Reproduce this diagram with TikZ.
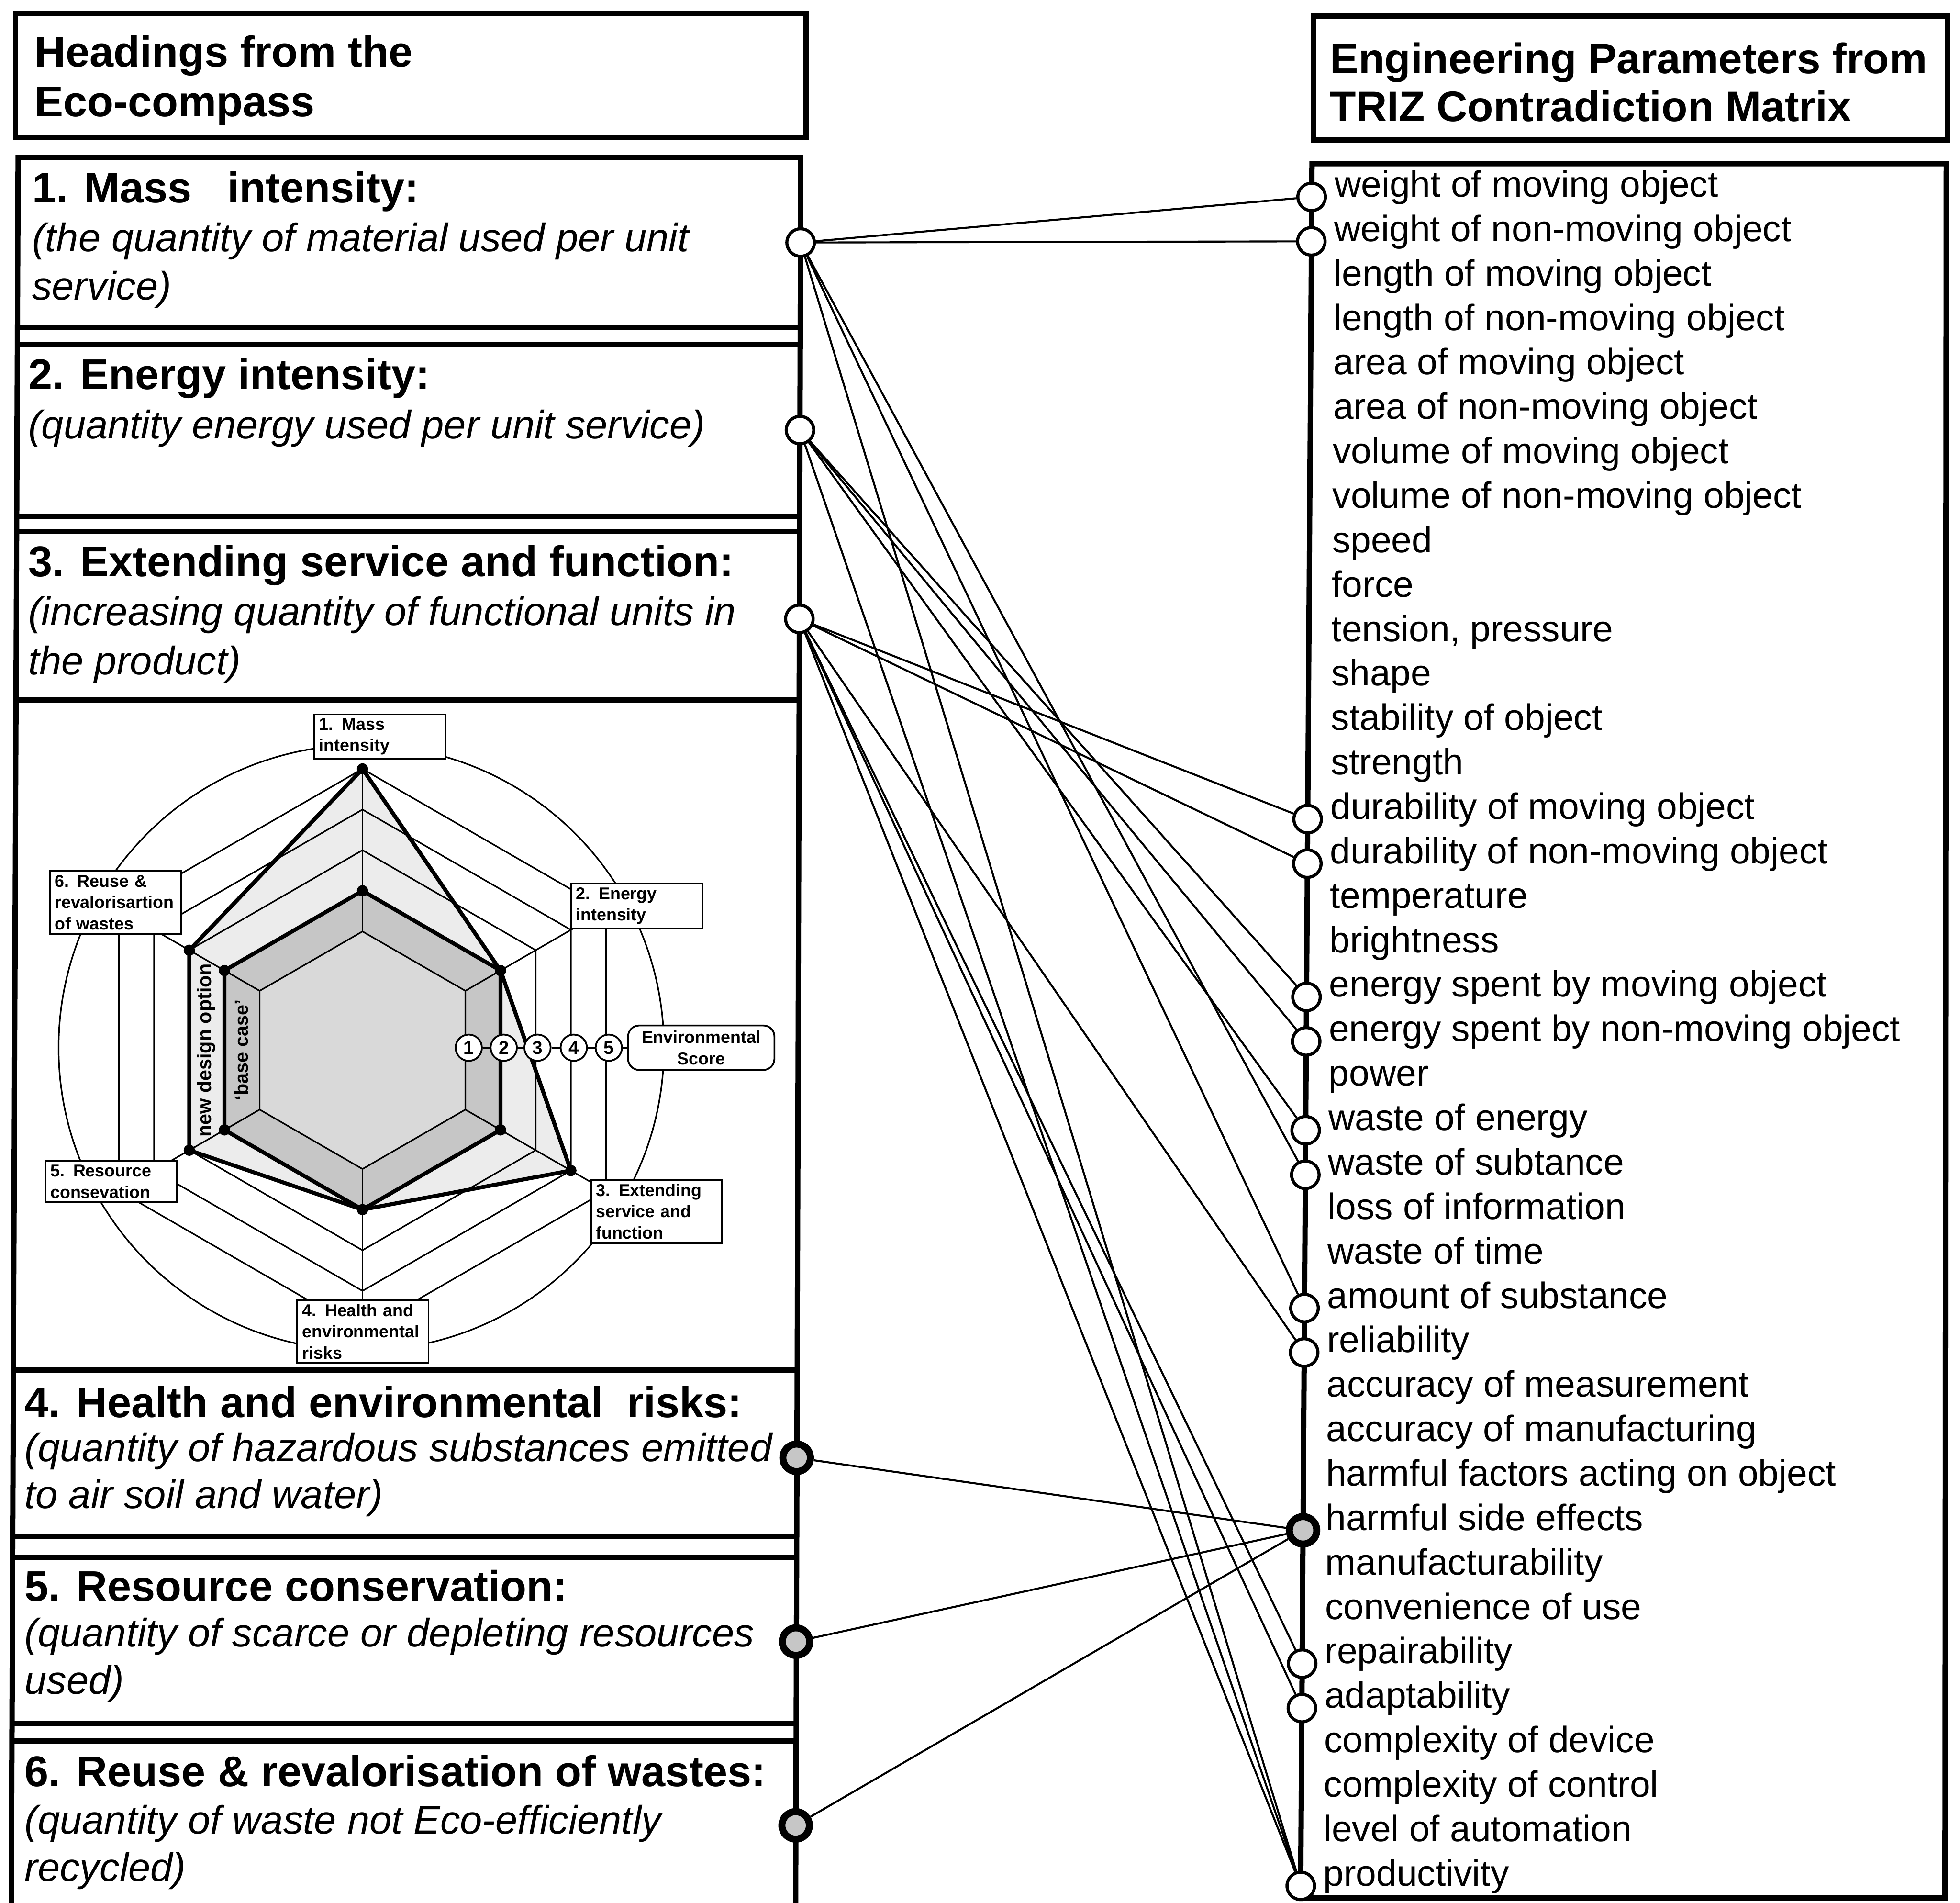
\documentclass[tikz,border=0pt]{standalone}
\usepackage{fontspec}
\setmainfont{Liberation Sans}
\usepackage{tikz}

\begin{document}
\begin{tikzpicture}[x=0.01cm, y=-0.01cm,
    boxline/.style={line width=1.2pt},
    headtxt/.style={anchor=base west, inner sep=0, font=\fontsize{9.8}{11}\selectfont\bfseries},
    desctxt/.style={anchor=base west, inner sep=0, font=\fontsize{9.05}{11}\selectfont\itshape},
    paramtxt/.style={anchor=base west, inner sep=0, font=\fontsize{8.35}{10}\selectfont},
    knob/.style={circle, draw, fill=white, line width=0.7pt, minimum size=0.22cm, inner sep=0},
    hotknob/.style={knob, fill=gray!45, line width=1.6pt},
    link/.style={line width=0.45pt},
    hexline/.style={line width=0.35pt},
    axbox/.style={draw, fill=white, line width=0.4pt, anchor=north west, text width=0.97cm,
        inner xsep=0.04cm, inner ysep=0.9pt, align=left, font=\fontsize{3.9}{4.85}\selectfont\bfseries},
    scoreknob/.style={circle, draw, fill=white, line width=0.4pt, minimum size=0.21cm, inner sep=0,
        font=\fontsize{4.2}{5}\selectfont\bfseries}]
\useasboundingbox (0,0) rectangle (1568,1522);

% left column: headings from the eco-compass
\draw[boxline] (12.5,11) rectangle (645,110);
\node[headtxt] (lhead1) at (27,53.4) {Headings from the};
\node[headtxt] (lhead2) at (27,93.3) {Eco-compass};

\draw[boxline] (9,1530) -- (14.5,126) -- (640.6,126) -- (636.5,1530);
\draw[boxline] (14,262) -- (640.2,262);
\draw[boxline] (13.9,276) -- (640.2,276);
\draw[boxline] (13.4,413) -- (639.8,413);
\draw[boxline] (13.3,425) -- (639.7,425);
\draw[boxline] (12.8,560) -- (639.3,560);
\draw[boxline] (10.7,1096) -- (637.7,1096);
\draw[boxline] (10.1,1229) -- (637.4,1229);
\draw[boxline] (10.1,1245.6) -- (637.3,1245.6);
\draw[boxline] (9.6,1378.5) -- (636.9,1378.5);
\draw[boxline] (9.5,1392.6) -- (636.9,1392.6);

\node[headtxt] (mass) at (25,162) {1. Mass\ \ \ intensity:};
\node[desctxt] (massa) at (25,201) {(the quantity of material used per unit};
\node[desctxt] (massb) at (25,240) {service)};
\node[headtxt] (energy) at (22,311.6) {2. Energy intensity:};
\node[desctxt] (energya) at (22,350.8) {(quantity energy used per unit service)};
\node[headtxt] (extend) at (22,461) {3. Extending service and function:};
\node[desctxt] (extenda) at (22,500) {(increasing quantity of functional units in};
\node[desctxt] (extendb) at (22,539.5) {the product)};
\node[headtxt] (health) at (19,1133.6) {4. Health and environmental\ \ risks:};
\node[desctxt] (healtha) at (19,1168.8) {(quantity of hazardous substances emitted};
\node[desctxt] (healthb) at (19,1206.5) {to air soil and water)};
\node[headtxt] (resource) at (19,1280.7) {5. Resource conservation:};
\node[desctxt] (resourcea) at (19,1317) {(quantity of scarce or depleting resources};
\node[desctxt] (resourceb) at (19,1355) {used)};
\node[headtxt] (reuse) at (19,1429) {6. Reuse \& revalorisation of wastes:};
\node[desctxt] (reusea) at (19,1466.8) {(quantity of waste not Eco-efficiently};
\node[desctxt] (reuseb) at (19,1504.6) {recycled)};

% eco-compass
\fill[gray!15, shift={(290,840)}] (-90:225) -- (-30:127.5) -- (30:192.5) -- (90:127.5) -- (150:160) -- (210:160) -- cycle;
\fill[gray!45, shift={(290,840)}] (-90:127.5) -- (-30:127.5) -- (30:127.5) -- (90:127.5) -- (150:127.5) -- (210:127.5) -- cycle;
\fill[gray!30, shift={(290,840)}] (-90:95) -- (-30:95) -- (30:95) -- (90:95) -- (150:95) -- (210:95) -- cycle;
\foreach \r in {95,127.5,160,192.5,225}
  \draw[hexline, shift={(290,840)}] (-90:\r) -- (-30:\r) -- (30:\r) -- (90:\r) -- (150:\r) -- (210:\r) -- cycle;
\foreach \a in {-90,-30,30,90,150,210}
  \draw[hexline, shift={(290,840)}] (\a:95) -- (\a:225);
\draw[hexline] (289,838) circle[radius=2.42cm];
% base case and new design option
\draw[line width=0.9pt, shift={(290,840)}] (-90:127.5) -- (-30:127.5) -- (30:127.5) -- (90:127.5) -- (150:127.5) -- (210:127.5) -- cycle;
\draw[line width=0.9pt, shift={(290,840)}] (-90:225) -- (-30:127.5) -- (30:192.5) -- (90:127.5) -- (150:160) -- (210:160) -- cycle;
\foreach \a/\r in {-90/127.5,-30/127.5,30/127.5,90/127.5,150/127.5,210/127.5,-90/225,30/192.5,150/160,210/160}
  \fill[shift={(290,840)}] (\a:\r) circle[radius=0.045cm];
\node[rotate=90, inner sep=0, font=\fontsize{4.5}{5}\selectfont\bfseries] (newopt) at (165,840) {new design option};
\node[rotate=90, inner sep=0, font=\fontsize{4.3}{5}\selectfont\bfseries] (basecase) at (193,840) {`base case'};

\node[axbox] (ax1) at (250.5,570.6) {1. Mass\\intensity};
\node[axbox] (ax2) at (456,706) {2. Energy\\intensity};
\node[axbox] (ax3) at (472,943) {3. Extending\\service and\\function};
\node[axbox] (ax4) at (237,1039) {4. Health and\\environmental\\risks};
\node[axbox] (ax5) at (35.6,928) {5. Resource\\consevation};
\node[axbox] (ax6) at (39,696) {6. Reuse \&\\revalorisartion\\of wastes};

\node[draw, fill=white, rounded corners=2.5pt, line width=0.4pt, minimum width=1.17cm, minimum height=0.355cm,
  inner sep=0, align=center, font=\fontsize{3.9}{4.85}\selectfont\bfseries] (envscore) at (561,838) {Environmental\\Score};
\foreach \n/\x in {1/375,2/403,3/430,4/459,5/487}
  \node[scoreknob] (s\n) at (\x,838) {\n};
\draw[hexline] (s1) -- (s2) -- (s3) -- (s4) -- (s5) -- (envscore);

% right column: TRIZ parameters
\draw[boxline] (1051,13) rectangle (1558,112);
\node[headtxt, font=\fontsize{9.7}{11}\selectfont\bfseries] (rhead1) at (1063.4,58.6) {Engineering Parameters from};
\node[headtxt, font=\fontsize{9.7}{11}\selectfont\bfseries] (rhead2) at (1063.4,97) {TRIZ Contradiction Matrix};
\draw[boxline] (1049.6,131) -- (1040.5,1518) -- (1556,1518) -- (1557,131) -- cycle;

\foreach \txt [count=\i] in {weight of moving object, weight of non-moving object, length of moving object,
    length of non-moving object, area of moving object, area of non-moving object, volume of moving object,
    volume of non-moving object, speed, force, {tension, pressure}, shape, stability of object, strength,
    durability of moving object, durability of non-moving object, temperature, brightness,
    energy spent by moving object, energy spent by non-moving object, power, waste of energy,
    waste of subtance, loss of information, waste of time, amount of substance, reliability,
    accuracy of measurement, accuracy of manufacturing, harmful factors acting on object,
    harmful side effects, manufacturability, convenience of use, repairability, adaptability,
    complexity of device, complexity of control, level of automation, productivity}
  \node[paramtxt] (p\i) at ({1067-(\i-1)*0.237},{157.5+(\i-1)*35.55}) {\txt};

% connection points
\node[knob] (L1) at (640.5,194) {};
\node[knob] (L2) at (640,344) {};
\node[knob] (L3) at (639.5,495) {};
\node[hotknob] (L4) at (637.3,1166) {};
\node[hotknob] (L5) at (636.8,1313) {};
\node[hotknob] (L6) at (636.5,1460) {};
\foreach \i in {1,2,15,16,19,20,22,23,26,27,34,35,39}
  \node[knob] (r\i) at ({1049.3-(\i-1)*0.229},{157.5+(\i-1)*35.55}) {};
\node[hotknob] (r31) at ({1049.3-30*0.229},{157.5+30*35.55}) {};

\foreach \a/\b in {L1/r1, L1/r2, L1/r23, L1/r26, L1/r39,
    L2/r19, L2/r20, L2/r22, L2/r39,
    L3/r15, L3/r16, L3/r27, L3/r34, L3/r35, L3/r39,
    L4/r31, L5/r31, L6/r31}
  \draw[link] (\a) -- (\b);
\end{tikzpicture}
\end{document}
